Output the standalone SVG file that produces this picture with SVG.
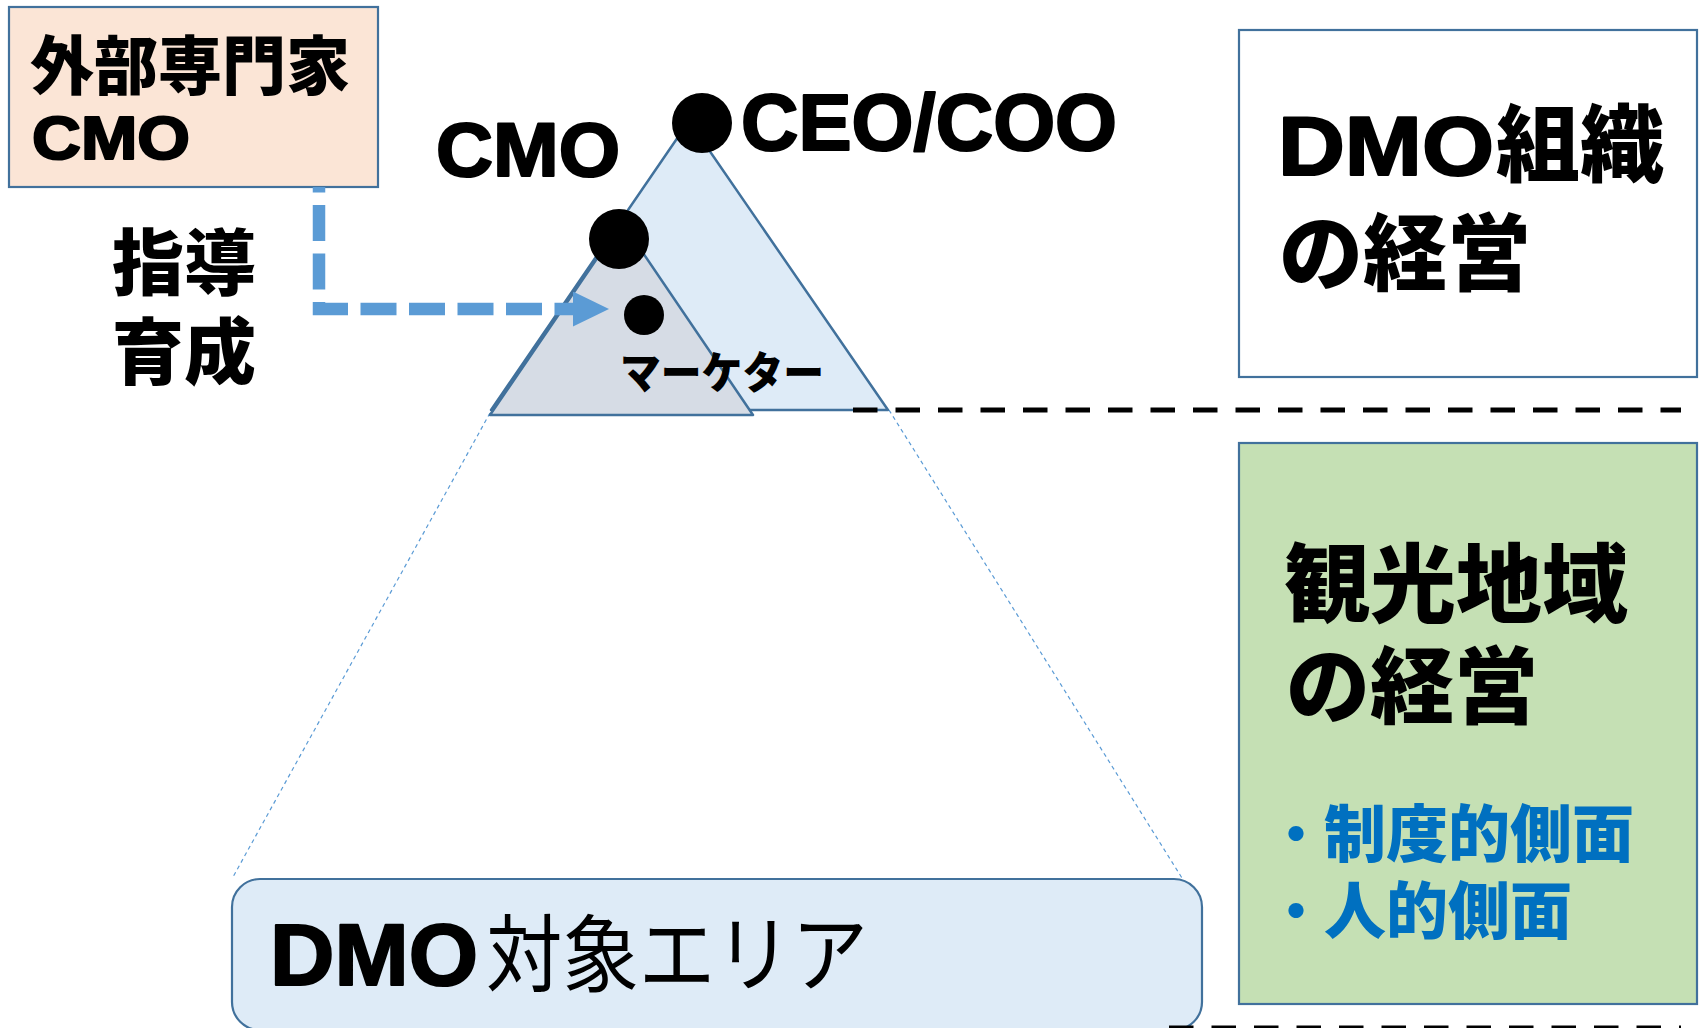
<svg xmlns="http://www.w3.org/2000/svg" width="1704" height="1028" viewBox="0 0 1704 1028">
  <style>
    .box { stroke: #41719C; stroke-width: 2.2; }
    .jp { font-family: "Liberation Sans", "Noto Sans CJK JP", sans-serif; font-weight: 900; fill: #000; }
    .jpn { font-family: "Noto Sans CJK JP", sans-serif; font-weight: normal; fill: #000; }
    .heavy { stroke: #000; stroke-width: 2.2; stroke-linejoin: round; }
    .blue { fill: #0070C0; }
    .dot { fill: #000; }
    .thin { fill: none; stroke: #5B9BD5; stroke-width: 1.2; stroke-dasharray: 4 3.5; }
    .divider { fill: none; stroke: #000; stroke-width: 5; stroke-dasharray: 24.5 18; }
  </style>
  <defs>
    <marker id="arrow" markerUnits="userSpaceOnUse" markerWidth="37" markerHeight="36" refX="0" refY="17.5" orient="auto">
      <path d="M0,0 L36,17.5 L0,35 Z" fill="#5B9BD5"/>
    </marker>
  </defs>
  <rect width="1704" height="1028" fill="#fff"/>

  <!-- guide lines from the organisation triangle to the area box -->
  <g id="guides">
    <line class="thin" x1="490" y1="413" x2="233" y2="877"/>
    <line class="thin" x1="889" y1="410" x2="1182" y2="878"/>
  </g>

  <g id="node-area">
    <rect class="box" x="232" y="879" width="970" height="151" rx="28" ry="28" fill="#DEEBF7"/>
    <text y="985"><tspan class="jp heavy" x="270" font-size="88" textLength="208" lengthAdjust="spacingAndGlyphs">DMO</tspan><tspan class="jpn" x="486" font-size="84" textLength="382" lengthAdjust="spacingAndGlyphs">対象エリア</tspan></text>
  </g>

  <g id="node-org-triangle">
    <polygon points="689,121 888,410 491,410" fill="#DEEBF7" stroke="#41719C" stroke-width="2.5" stroke-linejoin="round"/>
  </g>
  <g id="node-marketer-triangle">
    <polygon points="622,222 753,415 490,415" fill="#D6DCE5" stroke="#41719C" stroke-width="2.5" stroke-linejoin="round"/>
  </g>

  <g id="node-ceo">
    <circle class="dot" cx="702" cy="123" r="30"/>
    <text class="jp heavy" x="741" y="150" font-size="80" textLength="376" lengthAdjust="spacingAndGlyphs">CEO/COO</text>
  </g>
  <g id="node-cmo">
    <circle class="dot" cx="619" cy="239" r="30"/>
    <text class="jp heavy" x="436" y="176" font-size="76" textLength="184" lengthAdjust="spacingAndGlyphs">CMO</text>
  </g>
  <g id="node-marketer">
    <circle class="dot" cx="644" cy="315" r="20"/>
    <text class="jp" x="620" y="389" font-size="44" textLength="204" lengthAdjust="spacingAndGlyphs">マーケター</text>
  </g>

  <g id="node-expert">
    <rect class="box" x="9" y="7" width="369" height="180" fill="#FBE5D6"/>
    <text class="jp" x="30" y="89" font-size="64" textLength="320" lengthAdjust="spacingAndGlyphs">外部専門家</text>
    <text class="jp heavy" x="32" y="159" font-size="61" textLength="158" lengthAdjust="spacingAndGlyphs">CMO</text>
  </g>

  <g id="label-guidance">
    <text class="jp" x="112" y="289" font-size="72">指導</text>
    <text class="jp" x="112" y="378" font-size="72">育成</text>
  </g>

  <g id="connectors">
    <path d="M319,187 V309 H573" fill="none" stroke="#5B9BD5" stroke-width="12.5" stroke-dasharray="36 12.5" stroke-dashoffset="30.5" marker-end="url(#arrow)"/>
  </g>

  <g id="dividers">
    <line class="divider" x1="853" y1="410" x2="1681" y2="410"/>
    <line class="divider" x1="1169" y1="1028" x2="1681" y2="1028"/>
  </g>

  <g id="node-dmo-management">
    <rect class="box" x="1239" y="30" width="458" height="347" fill="#fff"/>
    <text y="175"><tspan class="jp heavy" x="1278" font-size="84" textLength="216" lengthAdjust="spacingAndGlyphs">DMO</tspan><tspan class="jp" x="1496" font-size="84">組織</tspan></text>
    <text class="jp" x="1279" y="284" font-size="84">の経営</text>
  </g>

  <g id="node-area-management">
    <rect class="box" x="1239" y="443" width="458" height="561" fill="#C5E0B4"/>
    <text class="jp" x="1284" y="616" font-size="86">観光地域</text>
    <text class="jp" x="1286" y="717" font-size="84">の経営</text>
    <text class="jp blue" y="857" font-size="62"><tspan x="1269" font-size="54" dy="-3">・</tspan><tspan x="1324" dy="3">制度的側面</tspan></text>
    <text class="jp blue" y="934" font-size="62"><tspan x="1269" font-size="54" dy="-3">・</tspan><tspan x="1324" dy="3">人的側面</tspan></text>
  </g>
</svg>
